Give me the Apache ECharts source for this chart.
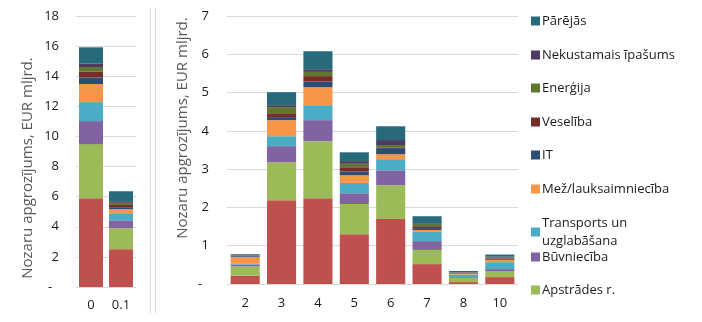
<!DOCTYPE html>
<html><head><meta charset="utf-8">
<script src="https://cdn.jsdelivr.net/npm/echarts@6/dist/echarts.min.js"></script>
<style>html,body{margin:0;padding:0;background:#fff}#c{width:702px;height:322px}</style>
</head><body><div id="c"></div>
<script>
// Categories
var leftCats = ['0', '0.1'];
var rightCats = ['2', '3', '4', '5', '6', '7', '8', '10'];
// Series values (EUR bn), first 2 = left chart, remaining 8 = right chart
var tirdznieciba = [5.90, 2.51, 0.22, 2.19, 2.24, 1.30, 1.70, 0.52, 0.05, 0.18];
var apstrades    = [3.59, 1.39, 0.24, 0.99, 1.49, 0.79, 0.88, 0.37, 0.11, 0.16];
var buvnieciba   = [1.53, 0.53, 0.05, 0.42, 0.55, 0.28, 0.39, 0.23, 0.02, 0.05];
var transports   = [1.26, 0.42, 0.03, 0.26, 0.39, 0.27, 0.29, 0.24, 0.07, 0.18];
var mezlauks     = [1.20, 0.32, 0.17, 0.42, 0.47, 0.20, 0.13, 0.05, 0.02, 0.06];
var it           = [0.44, 0.13, 0.02, 0.08, 0.15, 0.10, 0.16, 0.05, 0.01, 0.02];
var veseliba     = [0.38, 0.15, 0.01, 0.10, 0.14, 0.11, 0.02, 0.05, 0.01, 0.02];
var energija     = [0.31, 0.14, 0.01, 0.16, 0.11, 0.09, 0.06, 0.06, 0.01, 0.03];
var nekustamais  = [0.22, 0.11, 0.01, 0.05, 0.07, 0.07, 0.13, 0.02, 0.01, 0.02];
var parejas      = [1.09, 0.66, 0.02, 0.34, 0.47, 0.23, 0.36, 0.18, 0.03, 0.05];
// Axis ticks
var leftMax = 18, leftStep = 2;
var rightMax = 7, rightStep = 1;
var axisTitle = 'Nozaru apgrozījums, EUR mljrd.';

var seriesDefs = [
  {name: 'Tirdzniecība', data: tirdznieciba, color: '#C0504D'},
  {name: 'Apstrādes r.', data: apstrades, color: '#9BBB59'},
  {name: 'Būvniecība', data: buvnieciba, color: '#8064A2'},
  {name: 'Transports un uzglabāšana', data: transports, color: '#4BACC6'},
  {name: 'Mež/lauksaimniecība', data: mezlauks, color: '#F79646'},
  {name: 'IT', data: it, color: '#2C4D75'},
  {name: 'Veselība', data: veseliba, color: '#772C2A'},
  {name: 'Enerģija', data: energija, color: '#5F7530'},
  {name: 'Nekustamais īpašums', data: nekustamais, color: '#4D3B62'},
  {name: 'Pārējās', data: parejas, color: '#276A7C'}
];

var font = '"Open Sans", "DejaVu Sans", sans-serif';
var series = [];
seriesDefs.forEach(function (s) {
  series.push({name: s.name, type: 'bar', stack: 'L', xAxisIndex: 0, yAxisIndex: 0,
    data: s.data.slice(0, 2), itemStyle: {color: s.color}, barCategoryGap: '20%'});
  series.push({name: s.name, type: 'bar', stack: 'R', xAxisIndex: 1, yAxisIndex: 1,
    data: s.data.slice(2), itemStyle: {color: s.color}, barCategoryGap: '20%'});
});

// legend, top to bottom (reverse stack order), Tirdzniecība is cut off in the original
var legendNames = ['Pārējās', 'Nekustamais īpašums', 'Enerģija', 'Veselība', 'IT',
  'Mež/lauksaimniecība', 'Transports un uzglabāšana', 'Būvniecība', 'Apstrādes r.'];
var legendTops = [12, 46, 79, 113, 146, 180, 214, 248, 281];
var legends = legendNames.map(function (n, i) {
  return {data: [n], left: 531, top: legendTops[i], orient: 'vertical',
    itemWidth: 9, itemHeight: 9, itemGap: 4, padding: 0, selectedMode: false,
    formatter: function (name) { return name === 'Transports un uzglabāšana' ? 'Transports un\nuzglabāšana' : name; },
    textStyle: {fontFamily: font, fontSize: 13, color: '#1a1a1a', lineHeight: 18, padding: [0, 0, 0, -3]},
    icon: 'rect'};
});

function yAxisCfg(max, step, gi) {
  return {type: 'value', gridIndex: gi, min: 0, max: max, interval: step,
    axisLine: {show: false}, axisTick: {show: false},
    axisLabel: {fontFamily: font, fontSize: 13, color: '#1a1a1a', margin: gi === 0 ? 17 : 18,
      formatter: function (v) { return v === 0 ? '-  ' : String(v); }},
    splitLine: {lineStyle: {color: '#D9D9D9', width: 1}}};
}
function xAxisCfg(cats, gi) {
  return {type: 'category', gridIndex: gi, data: cats,
    axisLine: {lineStyle: {color: '#D9D9D9'}}, axisTick: {show: false},
    axisLabel: {fontFamily: font, fontSize: 13, color: '#1a1a1a', margin: gi === 0 ? 12 : 13}};
}

var chart = echarts.init(document.getElementById('c'), null, {renderer: 'canvas'});
chart.setOption({
  animation: false,
  backgroundColor: '#fff',
  grid: [
    {left: 76, width: 60, top: 16, bottom: 35},
    {left: 227, width: 291, top: 16, bottom: 38}
  ],
  xAxis: [xAxisCfg(leftCats, 0), xAxisCfg(rightCats, 1)],
  yAxis: [yAxisCfg(leftMax, leftStep, 0), yAxisCfg(rightMax, rightStep, 1)],
  legend: legends,
  series: series,
  graphic: [
    {type: 'line', shape: {x1: 150.5, y1: 8, x2: 150.5, y2: 313}, style: {stroke: '#D9D9D9', lineWidth: 1}},
    {type: 'line', shape: {x1: 155.5, y1: 8, x2: 155.5, y2: 313}, style: {stroke: '#D9D9D9', lineWidth: 1}},
    {type: 'text', x: 28, y: 168, rotation: Math.PI / 2,
      style: {text: axisTitle, fontFamily: font, fontSize: 15, fill: '#595959', textAlign: 'center', textVerticalAlign: 'middle'}},
    {type: 'text', x: 183, y: 128, rotation: Math.PI / 2,
      style: {text: axisTitle, fontFamily: font, fontSize: 15, fill: '#595959', textAlign: 'center', textVerticalAlign: 'middle'}}
  ]
});
</script></body></html>
